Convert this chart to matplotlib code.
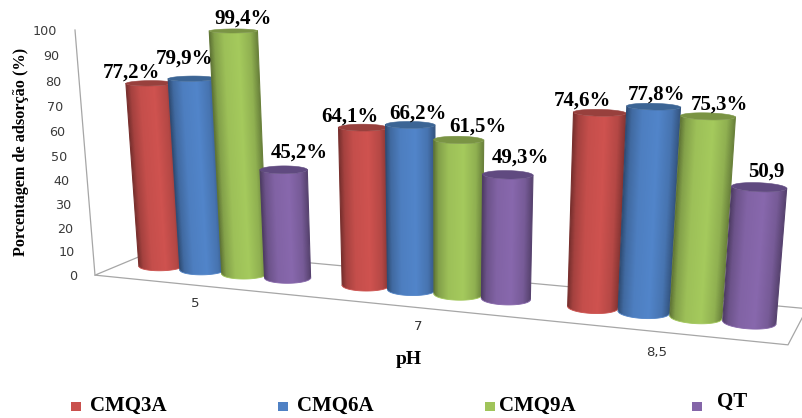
import numpy as np
import matplotlib
matplotlib.use("Agg")
import matplotlib.pyplot as plt
from matplotlib.colors import LinearSegmentedColormap, to_rgb
from matplotlib.patches import Polygon, Rectangle

# adsorption (%) per pH, one list per sample
categories = ["5", "7", "8,5"]
series_names = ["CMQ3A", "CMQ6A", "CMQ9A", "QT"]
cmq3a = [77.2, 64.1, 74.6]
cmq6a = [79.9, 66.2, 77.8]
cmq9a = [99.4, 61.5, 75.3]
qt = [45.2, 49.3, 50.9]
series_values = [cmq3a, cmq6a, cmq9a, qt]
y_ticks = list(range(0, 101, 10))

colors = ["#C9504D", "#4F81C4", "#A0C45A", "#8465A8"]
top_colors = ["#98403D", "#3C6595", "#7A9444", "#604A80"]

# label nudges from the bar top, px, [series][group]
label_dx = [[-18, -13, -17], [-7, 8, 3], [10, 19, 11], [16, 13, 7]]
label_dy = [[-11, -11, -12], [-20, -11, -12], [-12, -13, -12], [-17, -17, -16]]
cat_dx = [25, 25, 14]

# floor corners and axis tops (t, depth, value/100) -> px
cam_world = [(0, 0, 0), (1, 0, 0), (0, 1, 0), (1, 1, 0), (0, 0, 1), (1, 0, 1)]
cam_px = [(95, 275), (788, 345), (158, 249), (807, 308.5), (75, 30), (812, 57)]

bar_step = 0.07      # bar spacing along the category axis
r_t = 0.034          # cylinder radius along the axis
r_d = 0.17           # cylinder radius in depth
bar_depth = 0.47
# brightness across a cylinder, left edge to right edge
shade_u = [0, 0.1, 0.3, 0.6, 0.85, 1]
shade_f = [0.6, 0.82, 0.98, 1.03, 0.9, 0.66]


def fit_camera(world, px):
    rows, rhs = [], []
    for (X, Y, Z), (u, v) in zip(world, px):
        rows.append([X, Y, Z, 1, 0, 0, 0, 0, -u*X, -u*Y, -u*Z])
        rows.append([0, 0, 0, 0, X, Y, Z, 1, -v*X, -v*Y, -v*Z])
        rhs += [u, v]
    p = np.linalg.lstsq(np.array(rows, float), np.array(rhs, float), rcond=None)[0]
    return np.append(p, 1).reshape(3, 4)


P = fit_camera(cam_world, cam_px)


def project(t, d, h):
    t, d, h = np.broadcast_arrays(t, d, h)
    q = P @ np.vstack([t.ravel(), d.ravel(), h.ravel(), np.ones(t.size)])
    return q[0]/q[2], q[1]/q[2]


def project1(t, d, h):
    x, y = project(t, d, h)
    return float(x[0]), float(y[0])


def side_cmap(color):
    rgb = np.array(to_rgb(color))
    stops = [(u, tuple(np.clip(rgb*f, 0, 1))) for u, f in zip(shade_u, shade_f)]
    return LinearSegmentedColormap.from_list("side", stops, N=256)


def draw_cylinder(ax, tc, value, color, top_color):
    th = np.linspace(0, 2*np.pi, 241)[:-1]
    tt = tc + r_t*np.cos(th)
    dd = bar_depth + r_d*np.sin(th)
    bx, by = project(tt, dd, 0*th)
    tx, ty = project(tt, dd, value/100 + 0*th)
    # walk the lower arc between the left and right silhouette points
    il, ir = np.argmin(bx), np.argmax(bx)
    idx = [(il + k) % th.size for k in range(th.size)]
    idx = idx[:idx.index(ir) + 1]
    if by[idx].mean() < by.mean():
        idx = [(il - k) % th.size for k in range(th.size)]
        idx = idx[:idx.index(ir) + 1]

    # side shading: gradient across the bar, following its slanted edges
    outline = np.vstack([np.column_stack([bx[idx], by[idx]]),
                         np.column_stack([tx[idx], ty[idx]])[::-1]])
    x0, x1 = int(outline[:, 0].min()) - 1, int(outline[:, 0].max()) + 2
    y0, y1 = int(outline[:, 1].min()) - 1, int(outline[:, 1].max()) + 2
    yy, xx = np.mgrid[y0:y1, x0:x1] + 0.5
    xl = bx[il] + (yy - by[il])*(tx[il] - bx[il])/(ty[il] - by[il])
    xr = bx[ir] + (yy - by[ir])*(tx[ir] - bx[ir])/(ty[ir] - by[ir])
    cmap = side_cmap(color)
    im = ax.imshow(cmap(np.clip((xx - xl)/(xr - xl), 0, 1)), extent=(x0, x1, y1, y0),
                   aspect="auto", interpolation="bilinear", zorder=3)
    clip = Polygon(outline, closed=True, transform=ax.transData)
    im.set_clip_path(clip)

    # thin edges keep the clipped silhouette from looking jagged
    ax.plot([bx[il], tx[il]], [by[il], ty[il]], color=cmap(0.0), lw=0.8, zorder=3)
    ax.plot([bx[ir], tx[ir]], [by[ir], ty[ir]], color=cmap(1.0), lw=0.8, zorder=3)
    ax.plot(bx[idx], by[idx], color=cmap(0.5), lw=0.6, zorder=3)
    ax.add_patch(Polygon(np.column_stack([tx, ty]), facecolor=top_color,
                         edgecolor=top_color, lw=0.4, zorder=3))
    return project1(tc, bar_depth, value/100)


fig = plt.figure(figsize=(8.02, 4.18), dpi=100)
ax = fig.add_axes([0, 0, 1, 1])
ax.set_xlim(0, 802)
ax.set_ylim(418, 0)
ax.axis("off")

# chart frame: value axis and floor outline
line_kw = dict(color="#A6A6A6", lw=0.9, zorder=1)
ax.plot(*project([0, 0], [0, 0], [0, 1]), **line_kw)
ax.plot(*project([0, 1, 1.02], [1, 1, 1], [0, 0, 0]), **line_kw)
ax.plot(*project([0, 0, 1, 1], [1, 0, 0, 1], [0, 0, 0, 0]), **line_kw)

serif = "Liberation Serif"
for v in y_ticks:
    x0, y0 = project1(0, 0, v/100)
    ax.text(x0 - 18, y0 + 1, str(v), ha="right", va="center", fontsize=9.2,
            family="DejaVu Sans", color="#3a3a3a")

ax.text(21, 152, "Porcentagem de adsorção (%)", rotation=90, ha="center", va="center",
        fontsize=11.7, fontweight="bold", family=serif, color="black")
ax.text(409, 360, "pH", ha="center", va="center", fontsize=14,
        fontweight="bold", family=serif)

n_groups = len(categories)
for g in range(n_groups):
    center = (g + 0.5)/n_groups
    for s, vals in enumerate(series_values):
        tc = center + (s - 1.5)*bar_step
        tx, ty = draw_cylinder(ax, tc, vals[g], colors[s], top_colors[s])
        txt = f"{vals[g]:.1f}".replace(".", ",")
        if not (s == 3 and g == 2):  # the last label carries no percent sign
            txt += "%"
        ax.text(tx + label_dx[s][g], ty + label_dy[s][g], txt, ha="center", va="center",
                fontsize=15, fontweight="bold", family=serif, color="black", zorder=5)
    lx, ly = project1(center, -0.4, 0)
    ax.text(lx + cat_dx[g], ly + 6, categories[g], ha="center", va="center", fontsize=9.5,
            family="DejaVu Sans", color="#333333")

# legend along the bottom
legend_x = [71, 278, 485, 692]
text_x = [90, 297, 499, 717]
text_y = [406, 406, 406, 402]
for s, name in enumerate(series_names):
    ax.add_patch(Rectangle((legend_x[s], 402), 10, 9, facecolor=colors[s], edgecolor="none"))
    ax.text(text_x[s], text_y[s], name, ha="left", va="center", fontsize=15,
            fontweight="bold", family=serif)

fig.savefig("out.png", dpi=100, facecolor="white")
